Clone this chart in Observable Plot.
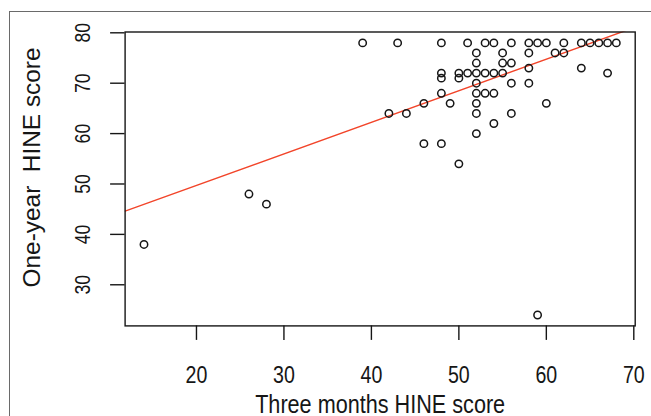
<!DOCTYPE html>
<html>
<head>
<meta charset="utf-8">
<script src="https://cdn.jsdelivr.net/npm/d3@7"></script>
<script src="https://cdn.jsdelivr.net/npm/@observablehq/plot@0.6"></script>
<style>
  html, body { margin: 0; padding: 0; background: #fff; }
  #wrap { position: relative; width: 651px; height: 416px; overflow: hidden; }
  #outer { position: absolute; left: 9px; top: 11px; width: 700px; height: 500px; border: 1px solid #6a6a6a; box-sizing: border-box; }
  #chart { position: absolute; left: 0; top: 0; }
</style>
</head>
<body>
<div id="wrap"><div id="outer"></div><div id="chart"></div></div>
<script>
// Three months HINE score (x) and one-year HINE score (y), one entry per child
const threeMonths = [14, 26, 28, 39, 42, 43, 44, 46, 46, 48, 48, 48, 48, 48, 49, 50, 50, 50, 51, 51,
  52, 52, 52, 52, 52, 52, 52, 52, 53, 53, 53, 54, 54, 54, 54, 55, 55, 55, 56, 56,
  56, 56, 58, 58, 58, 58, 59, 59, 60, 60, 61, 62, 62, 64, 64, 65, 66, 67, 67, 68];
const oneYear = [38, 48, 46, 78, 64, 78, 64, 66, 58, 78, 72, 71, 68, 58, 66, 72, 71, 54, 78, 72,
  76, 74, 72, 70, 68, 66, 64, 60, 78, 72, 68, 78, 72, 68, 62, 76, 74, 72, 78, 74,
  70, 64, 78, 76, 73, 70, 78, 24, 78, 66, 76, 78, 76, 78, 73, 78, 78, 78, 72, 78];
// fitted regression line
const intercept = 37.2;
const slope = 0.626;
const xTicks = [20, 30, 40, 50, 60, 70];
const yTicks = [30, 40, 50, 60, 70, 80];
const xTitle = "Three months HINE score";
const yTitle = "One-year  HINE score";

const points = threeMonths.map((x, i) => ({x, y: oneYear[i]}));
function rDomain(vals) {
  const [a, b] = d3.extent(vals);
  const e = (b - a) * 0.04;
  return [a - e, b + e];
}
const xDomain = rDomain(threeMonths);
const yDomain = rDomain(oneYear);
const fitLine = xDomain.map(x => ({x, y: intercept + slope * x}));

const ink = "#161616";
const font = "Liberation Sans, Arial, sans-serif";

const chart = Plot.plot({
  width: 651,
  height: 416,
  marginLeft: 124.6,
  marginRight: 16.3,
  marginTop: 31.5,
  marginBottom: 90.6,
  style: {background: "transparent", fontFamily: font, color: ink},
  x: {domain: xDomain},
  y: {domain: yDomain},
  marks: [
    Plot.axisX({ticks: xTicks, tickSize: 14.5, tickFormat: () => "", label: null, stroke: ink, strokeWidth: 1.4}),
    Plot.axisY({ticks: yTicks, tickSize: 14.5, tickFormat: () => "", label: null, stroke: ink, strokeWidth: 1.4}),
    Plot.text(xTicks, {x: d => d, frameAnchor: "bottom", lineAnchor: "bottom", dy: 56.8, text: d => String(d), fontSize: 24.5, fill: ink}),
    Plot.text(yTicks, {y: d => d, frameAnchor: "left", rotate: -90, textAnchor: "middle", lineAnchor: "bottom", dx: -35, text: d => String(d), fontSize: 22, fill: ink}),
    Plot.text([xTitle], {frameAnchor: "bottom", lineAnchor: "bottom", dy: 87, text: d => d, fontSize: 25, fill: ink}),
    Plot.text([yTitle], {frameAnchor: "left", rotate: -90, textAnchor: "middle", lineAnchor: "bottom", dx: -85, dy: -11.5, text: d => d, fontSize: 23, fill: ink}),
    Plot.line(fitLine, {x: "x", y: "y", stroke: "#f2452a", strokeWidth: 1.4, clip: true}),
    Plot.dot(points, {x: "x", y: "y", r: 3.7, stroke: ink, strokeWidth: 1.5, fill: "none"}),
    Plot.frame({stroke: ink, strokeWidth: 1.4})
  ]
});
document.getElementById("chart").appendChild(chart);

// condense the lettering to the narrow proportions of the reference
const xTickSet = new Set(xTicks.map(String));
const yTickSet = new Set(yTicks.map(String));
d3.select(chart).selectAll("text").each(function () {
  const t = this.textContent;
  if (!t) return;
  const natural = this.getComputedTextLength();
  let target = null;
  if (t === xTitle) target = 250;
  else if (t === yTitle) target = 240;
  else if (xTickSet.has(t) && Math.abs(this.getBoundingClientRect().width - natural) < 2) target = natural * 0.80;
  else if (yTickSet.has(t)) target = natural * 0.80;
  if (target) {
    this.setAttribute("textLength", target.toFixed(1));
    this.setAttribute("lengthAdjust", "spacingAndGlyphs");
  }
});
</script>
</body>
</html>
